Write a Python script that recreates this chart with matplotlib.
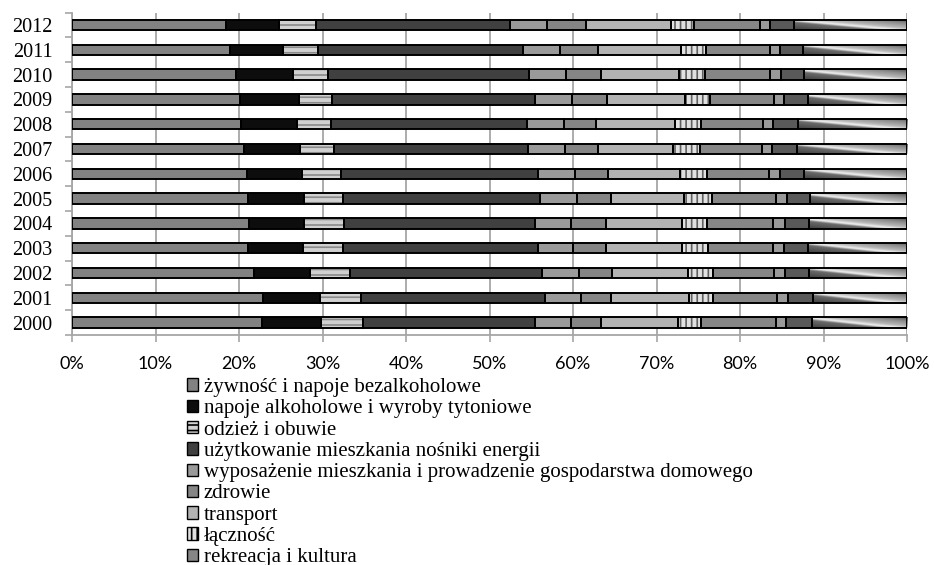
import numpy as np
import matplotlib
matplotlib.use("Agg")
import matplotlib.pyplot as plt
from matplotlib.patches import Patch
from matplotlib.font_manager import FontProperties

years = [2000, 2001, 2002, 2003, 2004, 2005, 2006, 2007, 2008, 2009, 2010, 2011, 2012]
categories = [
    "żywność i napoje bezalkoholowe",
    "napoje alkoholowe i wyroby tytoniowe",
    "odzież i obuwie",
    "użytkowanie mieszkania nośniki energii",
    "wyposażenie mieszkania i prowadzenie gospodarstwa domowego",
    "zdrowie",
    "transport",
    "łączność",
    "rekreacja i kultura",
    "edukacja",
    "restauracje i hotele",
    "inne towary i usługi",
]

# shares (%) per year 2000..2012
food      = [22.8, 22.9, 21.8, 21.1, 21.2, 21.1, 20.9, 20.6, 20.2, 20.1, 19.6, 18.9, 18.5]
alcohol   = [7.0, 6.8, 6.7, 6.6, 6.6, 6.7, 6.7, 6.7, 6.7, 7.1, 6.9, 6.4, 6.3]
clothing  = [5.1, 4.9, 4.8, 4.8, 4.8, 4.6, 4.6, 4.1, 4.1, 3.9, 4.1, 4.2, 4.4]
housing   = [20.5, 22.0, 23.0, 23.3, 22.8, 23.7, 23.6, 23.2, 23.5, 24.4, 24.1, 24.5, 23.2]
furnish   = [4.4, 4.3, 4.4, 4.2, 4.4, 4.4, 4.4, 4.4, 4.4, 4.4, 4.5, 4.5, 4.5]
health    = [3.6, 3.7, 4.0, 4.0, 4.2, 4.1, 4.0, 4.0, 3.9, 4.2, 4.2, 4.5, 4.6]
transport = [9.2, 9.3, 9.1, 9.1, 9.0, 8.7, 8.6, 9.0, 9.4, 9.3, 9.3, 9.9, 10.2]
comm      = [2.7, 2.9, 3.0, 3.1, 3.1, 3.4, 3.3, 3.2, 3.1, 3.0, 3.1, 3.0, 2.8]
recreation= [9.0, 7.6, 7.3, 7.7, 7.9, 7.6, 7.4, 7.4, 7.5, 7.7, 7.8, 7.7, 7.9]
education = [1.2, 1.3, 1.3, 1.4, 1.4, 1.3, 1.3, 1.2, 1.2, 1.2, 1.3, 1.2, 1.2]
restaur   = [3.1, 3.1, 2.9, 2.9, 2.9, 2.8, 2.9, 3.0, 2.9, 2.9, 2.8, 2.8, 2.9]
other     = [11.4, 11.2, 11.7, 11.8, 11.7, 11.6, 12.3, 13.2, 13.1, 11.8, 12.3, 12.4, 13.5]

series = [food, alcohol, clothing, housing, furnish, health, transport, comm,
          recreation, education, restaur, other]

faces   = ["#828282", "#0d0d0d", "#d0d0d0", "#404040", "#9a9a9a", "#858585",
           "#b3b3b3", "#e0e0e0", "#868686", "#9a9a9a", "#595959", "#c0c0c0"]
hatches = [None, None, "---", None, None, None, None, "|||", None, None, None, None]
hcolors = ["#828282", "#0d0d0d", "#8a8a8a", "#404040", "#9a9a9a", "#858585",
           "#b3b3b3", "#606060", "#868686", "#9a9a9a", "#595959", "#c0c0c0"]

plt.rcParams["hatch.linewidth"] = 1.2

W, H = 934, 565
fig = plt.figure(figsize=(W / 100, H / 100), dpi=100)
ax = fig.add_axes([72 / W, 1 - 335 / H, (907 - 72) / W, (335 - 12.7) / H])

data = np.array(series, dtype=float)
data = data / data.sum(axis=0) * 100.0
ypos = np.arange(len(years))
bar_h = 0.42

left = np.zeros(len(years))
containers = []
for i in range(len(series)):
    c = ax.barh(ypos, data[i], left=left, height=bar_h, color=faces[i],
                edgecolor=hcolors[i], linewidth=0, hatch=hatches[i], zorder=2)
    containers.append(c)
    ax.barh(ypos, data[i], left=left, height=bar_h, fill=False,
            edgecolor="black", linewidth=1.4, zorder=4)
    left += data[i]

# diagonal gradient texture for the last series
u = np.linspace(0, 1, 200)[None, :]
v = np.linspace(0, 1, 24)[:, None]
d = v - u
grad = np.interp(d, [-1.0, -0.6, -0.15, 0.1, 0.3, 1.0],
                 [0.33, 0.55, 0.72, 0.95, 0.42, 0.25])
for p in containers[-1].patches:
    x0, y0 = p.get_x(), p.get_y()
    im = ax.imshow(grad, cmap="gray", vmin=0, vmax=1, aspect="auto",
                   extent=(x0, x0 + p.get_width(), y0, y0 + p.get_height()),
                   origin="upper", zorder=3, interpolation="bilinear")
    im.set_clip_path(p)

ax.set_xlim(0, 100)
ax.set_ylim(-0.5, len(years) - 0.5)

grid_c = "#a6a6a6"
ax.set_xticks(np.arange(0, 101, 10))
ax.set_xticklabels([f"{t}%" for t in range(0, 101, 10)],
                   fontproperties=FontProperties(family="Lato", size=13))
ax.tick_params(axis="x", direction="out", length=5, width=1.2, color=grid_c, pad=10)
ax.xaxis.grid(True, color=grid_c, linewidth=1.3, zorder=0)
ax.set_axisbelow(True)

ax.set_yticks(ypos)
ax.set_yticklabels([str(y) for y in years],
                   fontproperties=FontProperties(family="Liberation Serif", size=14.5))
ax.tick_params(axis="y", which="major", length=0, pad=14)
ax.set_yticks(np.arange(-0.5, len(years), 1.0), minor=True)
ax.tick_params(axis="y", which="minor", direction="out", length=5, width=1.2, color=grid_c)

for s in ["top", "right"]:
    ax.spines[s].set_visible(False)
for s in ["left", "bottom"]:
    ax.spines[s].set_color(grid_c)
    ax.spines[s].set_linewidth(1.3)

handles = [Patch(facecolor=faces[i], edgecolor="black", hatch=hatches[i], linewidth=1.0)
           for i in range(len(categories))]
fig.legend(handles, categories, loc="upper left",
           bbox_to_anchor=(187 / W, 1 - 378 / H), bbox_transform=fig.transFigure,
           frameon=False, prop=FontProperties(family="Liberation Serif", size=15),
           handlelength=0.55, handleheight=0.55, handletextpad=0.25,
           labelspacing=0.11, borderpad=0, borderaxespad=0)

fig.savefig("out.png", dpi=100)
